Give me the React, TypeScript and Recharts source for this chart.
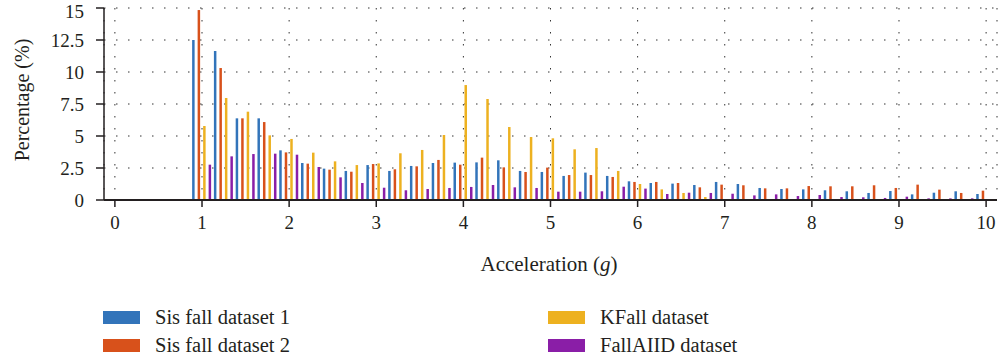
import React from 'react';
import { BarChart, Bar, XAxis, YAxis, CartesianGrid, Legend } from 'recharts';

// acceleration bins (g), step 0.25
const accel = [
  0, 0.25, 0.5, 0.75, 1, 1.25, 1.5, 1.75, 2, 2.25, 2.5, 2.75, 3, 3.25, 3.5, 3.75, 4, 4.25, 4.5, 4.75,
  5, 5.25, 5.5, 5.75, 6, 6.25, 6.5, 6.75, 7, 7.25, 7.5, 7.75, 8, 8.25, 8.5, 8.75, 9, 9.25, 9.5, 9.75, 10,
];
const sisFall1 = [
  0, 0, 0, 0, 12.5, 11.64, 6.38, 6.38, 3.88, 2.89, 2.45, 2.27, 2.73, 2.27, 2.66, 2.89, 2.92, 2.94, 3.1, 2.27,
  2.19, 1.88, 2.14, 1.88, 1.46, 1.33, 1.28, 1.17, 1.41, 1.25, 0.94, 0.86, 0.83, 0.76, 0.68, 0.55, 0.7, 0.44, 0.57, 0.68, 0.47,
];
const sisFall2 = [
  0, 0, 0, 0, 14.84, 10.31, 6.38, 6.09, 3.72, 2.84, 2.37, 2.21, 2.81, 2.4, 2.63, 3.13, 2.76, 3.31, 2.55, 2.19,
  2.53, 1.95, 1.95, 1.8, 1.41, 1.41, 1.33, 0.99, 1.2, 1.15, 0.91, 0.91, 1.09, 1.07, 1.07, 1.15, 0.94, 1.2, 0.81, 0.55, 0.73,
];
const kFall = [
  0, 0, 0, 0, 5.78, 7.97, 6.9, 5.05, 4.77, 3.7, 3.02, 2.73, 2.86, 3.65, 3.91, 5.08, 8.98, 7.89, 5.7, 4.92,
  4.82, 3.96, 4.06, 2.27, 1.25, 0.83, 0.55, 0.23, 0, 0, 0, 0, 0, 0, 0, 0, 0, 0, 0, 0, 0,
];
const fallAiid = [
  0, 0, 0, 0, 2.76, 3.41, 3.59, 3.62, 3.54, 2.58, 1.77, 1.33, 0.96, 0.76, 0.86, 0.94, 1.02, 1.17, 0.99, 0.94,
  0.65, 0.65, 0.68, 1.04, 0.89, 0.47, 0.57, 0.55, 0.49, 0.36, 0.44, 0.31, 0.39, 0.23, 0.21, 0.16, 0.26, 0.13, 0.13, 0.13, 0,
];

const xTicks = [0, 1, 2, 3, 4, 5, 6, 7, 8, 9, 10];
const yTicks = [0, 2.5, 5, 7.5, 10, 12.5, 15];

const series = [
  { key: 'sis1', name: 'Sis fall dataset 1', color: '#3274BA' },
  { key: 'sis2', name: 'Sis fall dataset 2', color: '#D8511B' },
  { key: 'kfall', name: 'KFall dataset', color: '#EDB120' },
  { key: 'aiid', name: 'FallAIID dataset', color: '#8A1EA7' },
];

const data = accel.map((g, i) => ({
  g,
  sis1: sisFall1[i],
  sis2: sisFall2[i],
  kfall: kFall[i],
  aiid: fallAiid[i],
}));

const FONT = '"Liberation Serif", "DejaVu Serif", serif';
const INK = '#231f20';

const YLabel = () => (
  <text
    x={22}
    y={100}
    transform="rotate(-90, 22, 100)"
    textAnchor="middle"
    dominantBaseline="central"
    fontFamily={FONT}
    fontSize={20}
    fill={INK}
  >
    Percentage (%)
  </text>
);

const XLabel = () => (
  <text x={549} y={264} textAnchor="middle" dominantBaseline="central" fontFamily={FONT} fontSize={21} fill={INK}>
    Acceleration (<tspan fontStyle="italic">g</tspan>)
  </text>
);

const legendCols = [103, 548];
const legendRows = [37, 65];

const LegendBox = () => (
  <div style={{ position: 'relative', width: 1000, height: 81, fontFamily: FONT, fontSize: 20.5, color: INK }}>
    {series.map((s, i) => {
      const left = legendCols[Math.floor(i / 2)];
      const top = legendRows[i % 2];
      return (
        <div key={s.key} style={{ position: 'absolute', left, top: top - 12, height: 24, display: 'flex', alignItems: 'center' }}>
          <span style={{ display: 'inline-block', width: 37, height: 13, background: s.color }} />
          <span style={{ marginLeft: 15, whiteSpace: 'nowrap' }}>{s.name}</span>
        </div>
      );
    })}
  </div>
);

export default function App() {
  return (
    <div style={{ position: 'absolute', left: 0, top: 0, width: 1000, height: 361, background: '#fff' }}>
      <BarChart
        width={1000}
        height={361}
        data={data}
        margin={{ top: 8, right: 3, bottom: 0, left: 0 }}
        barSize={2.5}
        barGap={3}
      >
        <CartesianGrid
          xAxisId="num"
          stroke="#333"
          strokeDasharray="1.5 10.5"
          ticks={yTicks}
        />
        <XAxis xAxisId="cat" dataKey="g" type="category" hide height={0} />
        <XAxis
          xAxisId="num"
          dataKey="g"
          type="number"
          domain={[-0.125, 10.125]}
          allowDataOverflow
          ticks={xTicks}
          height={80}
          tickSize={7}
          tickMargin={9}
          axisLine={{ stroke: INK, strokeWidth: 2 }}
          tickLine={{ stroke: INK, strokeWidth: 1.5 }}
          tick={{ fontFamily: FONT, fontSize: 19, fill: INK }}
          label={<XLabel />}
        />
        <XAxis
          xAxisId="top"
          orientation="top"
          dataKey="g"
          type="number"
          domain={[-0.125, 10.125]}
          allowDataOverflow
          height={0}
          tick={false}
          tickLine={false}
          axisLine={{ stroke: INK, strokeWidth: 1.5 }}
        />
        <YAxis
          type="number"
          domain={[0, 15]}
          ticks={yTicks}
          width={104}
          tickSize={8}
          tickMargin={12}
          axisLine={{ stroke: INK, strokeWidth: 1.5 }}
          tickLine={{ stroke: INK, strokeWidth: 1.5 }}
          tick={{ fontFamily: FONT, fontSize: 19, fill: INK }}
          label={<YLabel />}
        />
        <YAxis
          yAxisId="r"
          orientation="right"
          type="number"
          domain={[0, 15]}
          width={0}
          tick={false}
          tickLine={false}
          axisLine={{ stroke: INK, strokeWidth: 1.5 }}
        />
        <Legend verticalAlign="bottom" wrapperStyle={{ left: 0, bottom: 0, width: 1000 }} content={<LegendBox />} />
        {series.map((s) => (
          <Bar key={s.key} xAxisId="cat" dataKey={s.key} name={s.name} fill={s.color} isAnimationActive={false} />
        ))}
      </BarChart>
    </div>
  );
}
